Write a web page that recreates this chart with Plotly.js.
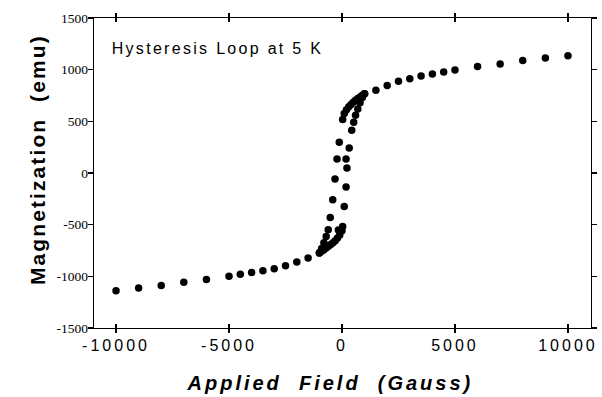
<!DOCTYPE html>
<html><head><meta charset="utf-8">
<script src="https://cdn.plot.ly/plotly-3.0.1.min.js"></script>
<style>
html,body{margin:0;padding:0;background:#fff;}
#chart{width:602px;height:397px;}
.xtick text{letter-spacing:3px;}
g.annotation[data-index="0"] text{letter-spacing:2.3px;}
g.annotation[data-index="1"] text{letter-spacing:3px;}
g.annotation[data-index="2"] text{letter-spacing:2.1px;}
</style></head><body><div id="chart"></div>
<script>
// Descending-field branch (+10000 G -> -10000 G), includes the outer saturation points
const descField = [10000, 9000, 8000, 7000, 6000, 5000, 4500, 4000, 3500, 3000, 2500, 2000, 1500,
  1000, 900, 800, 700, 600, 500, 400, 300, 200, 100, 30,
  -120, -220, -310, -410, -520, -610, -700, -800, -900, -1000,
  -1500, -2000, -2500, -3000, -3500, -4000, -4500, -5000, -6000, -7000, -8000, -9000, -10000];
const descMag = [1134, 1114, 1088, 1055, 1030, 997, 977, 958, 938, 913, 887, 847, 802,
  768, 752, 736, 720, 703, 685, 664, 640, 612, 575, 517,
  297, 136, -58, -259, -431, -550, -615, -675, -730, -772,
  -822, -861, -897, -926, -946, -962, -980, -1000, -1030, -1058, -1088, -1114, -1140];
// Ascending-field branch, inner part (-1000 G -> +1000 G)
const ascField = [-1000, -900, -800, -700, -600, -500, -400, -300, -200, -160, -100, 0, 30,
  100, 180, 180, 220, 320, 430, 520, 600, 700, 800, 900, 1000];
const ascMag = [-775, -758, -742, -726, -710, -693, -675, -655, -630, -552, -600, -560, -518,
  -324, -136, 136, 48, 242, 414, 490, 560, 620, 680, 730, 768];

const xTickVals = [-10000, -5000, 0, 5000, 10000];
const xTickText = ["-10000", "-5000", "0", "5000", "10000"];
const yTickVals = [-1500, -1000, -500, 0, 500, 1000, 1500];
const yTickText = ["-1500", "-1000", "-500", "0", "500", "1000", "1500"];

const chartTitle = "Hysteresis Loop at 5 K";
const xTitle = "Applied\u00a0 Field\u00a0 (Gauss)";
const yTitle = "Magnetization\u00a0 (emu)";

const xRange = [-10975, 11020];
const yRange = [-1500, 1500];

const marker = {color: "#000", size: 7.5, line: {width: 0}};
const traces = [
  {x: descField, y: descMag, type: "scatter", mode: "markers", marker: marker, name: "descending", hoverinfo: "x+y"},
  {x: ascField, y: ascMag, type: "scatter", mode: "markers", marker: marker, name: "ascending", xaxis: "x2", hoverinfo: "x+y"}
];

const layout = {
  width: 602, height: 397,
  margin: {l: 94, r: 11, t: 18, b: 69},
  paper_bgcolor: "#fff", plot_bgcolor: "#fff",
  showlegend: false,
  font: {family: "Liberation Sans, Arial, sans-serif", color: "#000"},
  xaxis: {
    range: xRange, tickvals: xTickVals, ticktext: xTickText,
    showline: true, linecolor: "#000", linewidth: 1.3, mirror: "allticks",
    ticks: "outside", ticklen: 4, tickwidth: 1.3, tickcolor: "#000",
    showgrid: false, zeroline: false, fixedrange: true, ticklabelstandoff: -2,
    tickfont: {family: "Liberation Sans, Arial, sans-serif", size: 16, color: "#000"}
  },
  xaxis2: {
    range: xRange, overlaying: "x", side: "bottom", tickvals: xTickVals,
    showline: true, linecolor: "#000", linewidth: 1.3, mirror: "allticks", showticklabels: false,
    ticks: "inside", ticklen: 4, tickwidth: 1.3, tickcolor: "#000",
    showgrid: false, zeroline: false, fixedrange: true
  },
  yaxis: {
    range: yRange, tickvals: yTickVals, ticktext: yTickText,
    showline: true, linecolor: "#000", linewidth: 1.3, mirror: "allticks",
    ticks: "outside", ticklen: 5, tickwidth: 1.3, tickcolor: "#000",
    showgrid: false, zeroline: false, fixedrange: true, ticklabelstandoff: -3,
    tickfont: {family: "Liberation Serif, Times New Roman, serif", size: 13.5, color: "#000"}
  },
  annotations: [
    {text: chartTitle, xref: "paper", yref: "paper", x: 0.2475, y: 0.9, xanchor: "center", yanchor: "middle",
     showarrow: false, font: {family: "Liberation Sans, Arial, sans-serif", size: 16, color: "#000"}},
    {text: xTitle, xref: "paper", yref: "paper", x: 0.4748, y: -0.177, xanchor: "center", yanchor: "middle",
     showarrow: false, font: {family: "Liberation Sans, Arial, sans-serif", size: 20, color: "#000", weight: "bold", style: "italic"}},
    {text: yTitle, xref: "paper", yref: "paper", x: -0.1147, y: 0.545, xanchor: "center", yanchor: "middle",
     textangle: -90, showarrow: false, font: {family: "Liberation Sans, Arial, sans-serif", size: 21, color: "#000", weight: "bold"}}
  ]
};

Plotly.newPlot("chart", traces, layout, {staticPlot: true, displayModeBar: false});
</script>
</body></html>
